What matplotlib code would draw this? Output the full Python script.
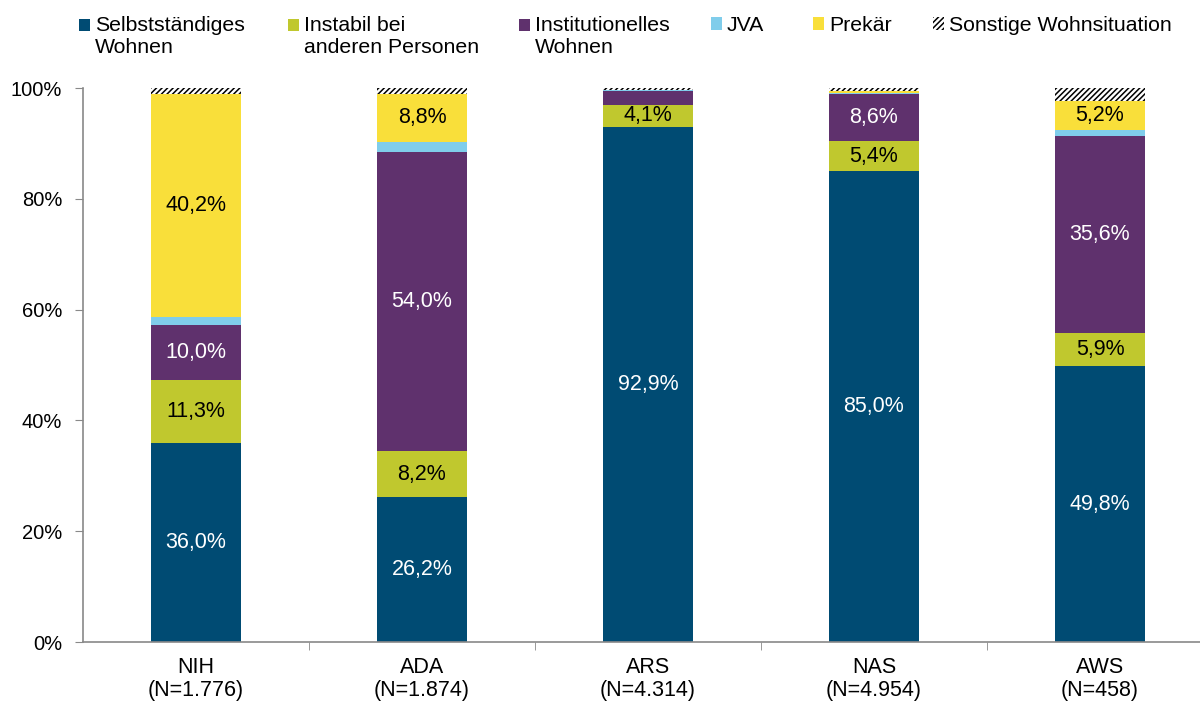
import matplotlib
matplotlib.use("Agg")
import matplotlib.pyplot as plt
import matplotlib.patches as mpatches
from matplotlib.legend_handler import HandlerPatch
import numpy as np

plt.rcParams['font.family'] = ['Liberation Sans', 'DejaVu Sans']
plt.rcParams['hatch.linewidth'] = 1.1

categories = ["NIH\n(N=1.776)", "ADA\n(N=1.874)", "ARS\n(N=4.314)", "NAS\n(N=4.954)", "AWS\n(N=458)"]
series_names = ["Selbstständiges\nWohnen", "Instabil bei\nanderen Personen", "Institutionelles\nWohnen",
                "JVA", "Prekär", "Sonstige Wohnsituation"]
selbst = [36.0, 26.2, 92.9, 85.0, 49.8]
instabil = [11.3, 8.2, 4.1, 5.4, 5.9]
institut = [10.0, 54.0, 2.4, 8.6, 35.6]
jva = [1.4, 1.8, 0.2, 0.1, 1.2]
prekaer = [40.2, 8.8, 0.1, 0.4, 5.2]
sonstige = [1.1, 1.0, 0.3, 0.5, 2.3]

# labels shown (None = no label)
lab_selbst = ["36,0%", "26,2%", "92,9%", "85,0%", "49,8%"]
lab_instabil = ["11,3%", "8,2%", "4,1%", "5,4%", "5,9%"]
lab_institut = ["10,0%", "54,0%", None, "8,6%", "35,6%"]
lab_prekaer = ["40,2%", "8,8%", None, None, "5,2%"]

colors = ["#004B73", "#C0C82E", "#5F316D", "#80CDEB", "#F9DF3A", "white"]

fig = plt.figure(figsize=(12, 7.04), dpi=100)
W, H = 1200, 704
ax = fig.add_axes([83 / W, (H - 642) / H, 1130 / W, (642 - 88) / H])

x = np.arange(len(categories))
bw = 90 / 226
series = [selbst, instabil, institut, jva, prekaer, sonstige]
labels = [lab_selbst, lab_instabil, lab_institut, None, lab_prekaer, None]
txtcol = ["white", "black", "white", None, "black", None]
bottom = np.zeros(len(categories))
containers = []
for i, vals in enumerate(series):
    if i == 5:
        c = ax.bar(x, vals, bw, bottom=bottom, color="white", edgecolor="black",
                   hatch="//////", linewidth=0)
    else:
        c = ax.bar(x, vals, bw, bottom=bottom, color=colors[i], linewidth=0)
    containers.append(c)
    if labels[i] is not None:
        for j, v in enumerate(vals):
            if labels[i][j]:
                ax.text(x[j], bottom[j] + v / 2, labels[i][j], ha="center", va="center",
                        color=txtcol[i], fontsize=15.5)
    bottom += np.array(vals)

ax.set_xlim(-0.5, len(categories) - 0.5)
ax.set_ylim(0, 100)
ax.set_yticks([0, 20, 40, 60, 80, 100])
ax.set_yticklabels(["0%", "20%", "40%", "60%", "80%", "100%"], fontsize=14.5)
ax.set_xticks(x)
ax.set_xticklabels(categories, fontsize=15.5, linespacing=1.1)
ax.tick_params(axis="x", length=0, pad=11)
ax.set_xticks(np.arange(0.5, len(categories) - 0.5, 1), minor=True)
ax.tick_params(axis="x", which="minor", length=6, color="#898989")
ax.tick_params(axis="y", length=6, color="#898989", pad=9)
for s in ["top", "right"]:
    ax.spines[s].set_visible(False)
for s in ["left", "bottom"]:
    ax.spines[s].set_color("#898989")
    ax.spines[s].set_linewidth(1.2)


def shifted(dy):
    def f(legend, orig_handle, xdescent, ydescent, width, height, fontsize):
        return mpatches.Rectangle((-xdescent, -ydescent + dy), width, height)
    return f


# legend: one entry per position
leg_x = [79, 288, 519, 711, 813, 933]
for i, c in enumerate(containers):
    h = c.patches[0]
    dy = 8.2 if "\n" in series_names[i] else 0.0
    lg = fig.legend([h], [series_names[i]], loc="upper left",
                    bbox_to_anchor=(leg_x[i] / W, 1 - 16 / H), frameon=False,
                    fontsize=15.3, handlelength=0.5, handleheight=0.5, handletextpad=0.25,
                    borderpad=0, borderaxespad=0, labelspacing=0,
                    handler_map={h: HandlerPatch(patch_func=shifted(dy))})
    for t in lg.get_texts():
        t.set_linespacing(1.2)

fig.savefig("out.png", dpi=100)
